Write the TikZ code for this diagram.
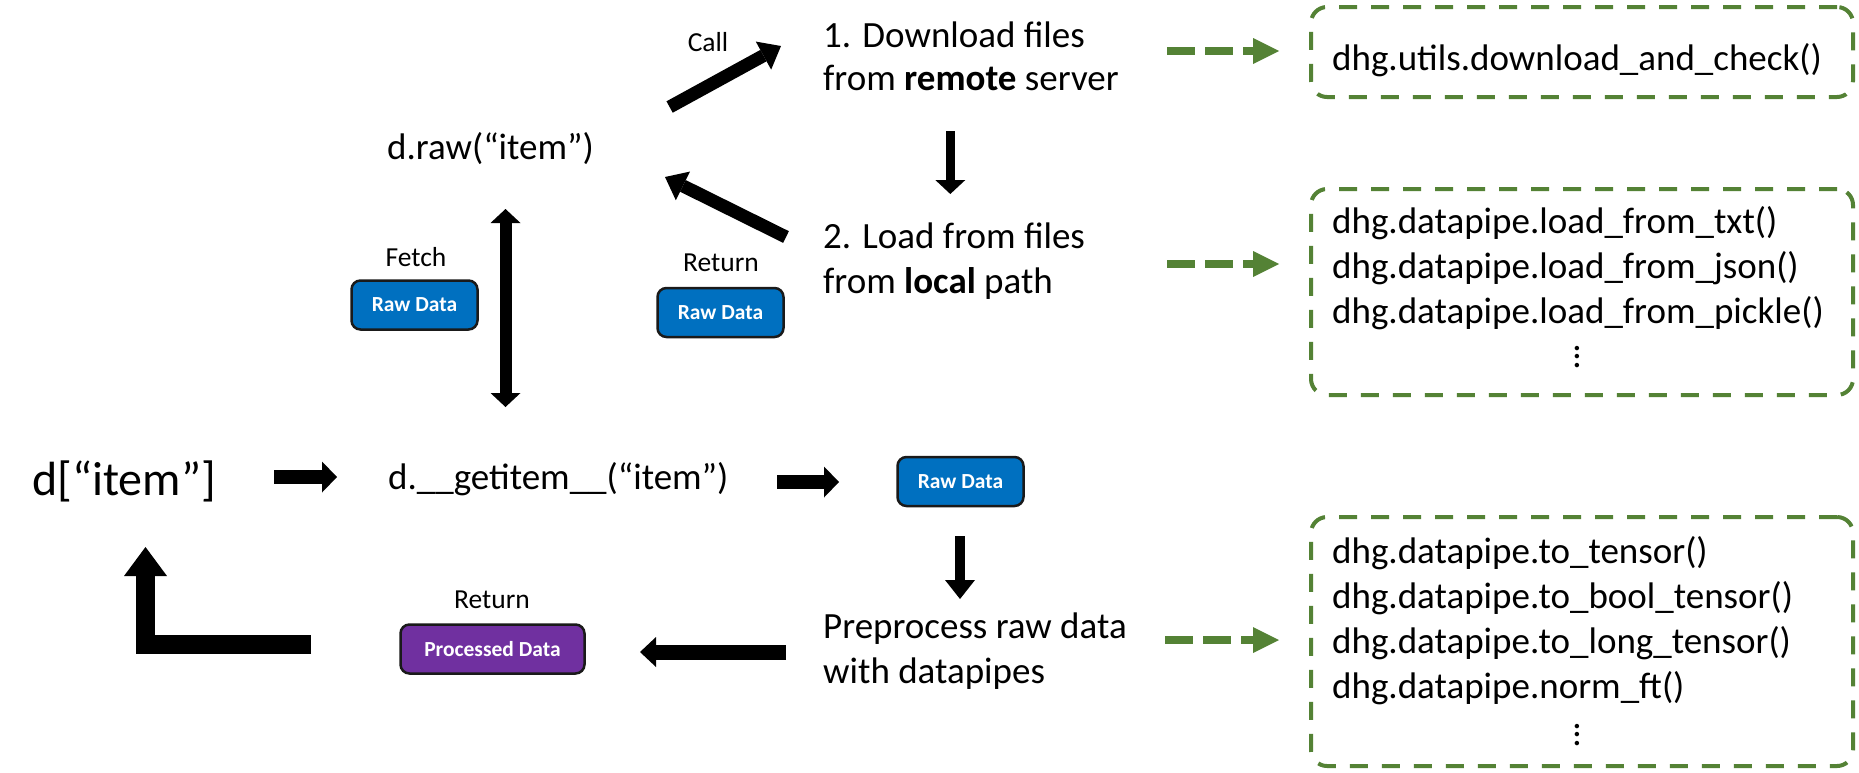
\documentclass[tikz,border=0pt]{standalone}
\usepackage{fontspec}
\setmainfont{Carlito}
\usetikzlibrary{arrows.meta}
\definecolor{gr}{HTML}{548235}
\definecolor{bl}{HTML}{0070C0}
\definecolor{pu}{HTML}{7030A0}
\definecolor{bd}{HTML}{1A1A1A}
\newcommand\myvdots{\vbox{\baselineskip=8.5pt\lineskiplimit=-100pt\hbox{.}\hbox{.}\hbox{.}}}
\begin{document}
\begin{tikzpicture}[x=1pt,y=-1pt,
  txt/.style={inner sep=0pt, font=\fontsize{37}{44}\selectfont, anchor=base west},
  code/.style={txt, text height=27pt, text depth=8pt},
  lbl/.style={inner sep=0pt, font=\fontsize{27.5}{33}\selectfont, anchor=base},
  tag/.style={draw=bd, line width=2.5pt, rounded corners=9pt, minimum width=126pt, minimum height=49pt, inner sep=0pt, text=white, font=\bfseries\fontsize{21.5}{26}\selectfont},
  codebox/.style={draw=gr, line width=4pt, dash pattern=on 18pt off 14pt, rounded corners=16pt, inner sep=0pt, minimum width=542pt},
  vd/.style={inner sep=0pt, font=\fontsize{37}{44}\selectfont},
  garrow/.style={draw=gr, line width=8pt, dash pattern=on 28pt off 10pt, -{Triangle[length=26pt,width=26pt,line width=0pt]}},
  blk/.style={draw=black, line width=13pt, -{Triangle[length=20pt,width=32pt,line width=0pt]}}
]
\fill[white] (0,0) rectangle (1859,772);
\useasboundingbox (0,0) rectangle (1859,772);

% main texts
\node[txt, font=\fontsize{48}{56}\selectfont] (ditem) at (32,495) {d[“item”]};
\node[txt] (getitem) at (388,489) {d.\_\_getitem\_\_(“item”)};
\node[txt] (draw) at (387,159) {d.raw(“item”)};
\node[code] (t1a) at (823,47) {1. Download files};
\node[code] (t1b) at (823,90) {from \textbf{remote} server};
\node[code] (t2a) at (823,248) {2. Load from files};
\node[code] (t2b) at (823,293) {from \textbf{local} path};
\node[code] (pre1) at (823,638) {Preprocess raw data};
\node[code] (pre2) at (823,683) {with datapipes};

% labels
\node[lbl] (call) at (708,51) {Call};
\node[lbl] (fetch) at (416,266) {Fetch};
\node[lbl] (ret1) at (721,271) {Return};
\node[lbl] (ret2) at (492,608) {Return};

% tags
\node[tag, fill=bl] (rd1) at (414.5,305) {Raw Data};
\node[tag, fill=bl] (rd2) at (720.5,312.5) {Raw Data};
\node[tag, fill=bl] (rd3) at (960.5,481.5) {Raw Data};
\node[tag, fill=pu, minimum width=184pt] (pd) at (492.5,649) {Processed Data};

% code boxes
\node[codebox, minimum height=90pt] (box1) at (1582,52) {};
\node[codebox, minimum height=206pt] (box2) at (1582,292) {};
\node[codebox, minimum height=249pt] (box3) at (1582,641.5) {};

\node[code] (c11) at (1332,70) {dhg.utils.download\_and\_check()};
\node[code] (c21) at (1332,233) {dhg.datapipe.load\_from\_txt()};
\node[code] (c22) at (1332,278) {dhg.datapipe.load\_from\_json()};
\node[code] (c23) at (1332,323) {dhg.datapipe.load\_from\_pickle()};
\node[vd] (v2) at (1577,357) {\myvdots};
\node[code] (c31) at (1332,563) {dhg.datapipe.to\_tensor()};
\node[code] (c32) at (1332,608) {dhg.datapipe.to\_bool\_tensor()};
\node[code] (c33) at (1332,653) {dhg.datapipe.to\_long\_tensor()};
\node[code] (c34) at (1332,698) {dhg.datapipe.norm\_ft()};
\node[vd] (v3) at (1577,735) {\myvdots};

% arrow end coordinates
\coordinate (g1s) at (1167,51);  \coordinate (g1e) at (1279,51);
\coordinate (g2s) at (1167,264); \coordinate (g2e) at (1279,264);
\coordinate (g3s) at (1165,640); \coordinate (g3e) at (1279,640);
\coordinate (calls) at (669.6,107); \coordinate (calle) at (781,46);
\coordinate (rets) at (786,237); \coordinate (rete) at (665,177);
\coordinate (d1s) at (950.3,131); \coordinate (d1e) at (950.3,194);
\coordinate (dbs) at (505.5,209); \coordinate (dbe) at (505.5,407);
\coordinate (r1s) at (274,477); \coordinate (r1e) at (337,477);
\coordinate (r2s) at (777,482); \coordinate (r2e) at (839,482);
\coordinate (d2s) at (960,536); \coordinate (d2e) at (960,599);
\coordinate (ls) at (786,652); \coordinate (le) at (640,652);
\coordinate (Ls) at (311,644.5); \coordinate (Lc) at (145.5,644.5); \coordinate (Le) at (145.5,547);

% green arrows
\draw[garrow] (g1s) -- (g1e);
\draw[garrow] (g2s) -- (g2e);
\draw[garrow] (g3s) -- (g3e);

% black arrows
\draw[blk] (calls) -- (calle);
\draw[blk] (rets) -- (rete);
\draw[blk, line width=9.5pt, -{Triangle[length=14pt,width=30pt,line width=0pt]}] (d1s) -- (d1e);
\draw[blk, line width=12pt, {Triangle[length=14pt,width=30pt,line width=0pt]}-{Triangle[length=14pt,width=30pt,line width=0pt]}] (dbs) -- (dbe);
\draw[blk, line width=14pt, -{Triangle[length=15pt,width=31pt,line width=0pt]}] (r1s) -- (r1e);
\draw[blk, line width=14pt, -{Triangle[length=15pt,width=31pt,line width=0pt]}] (r2s) -- (r2e);
\draw[blk, line width=10pt, -{Triangle[length=19pt,width=30pt,line width=0pt]}] (d2s) -- (d2e);
\draw[blk, line width=15pt, -{Triangle[length=16pt,width=30pt,line width=0pt]}] (ls) -- (le);
\draw[blk, line width=19pt, line join=miter, -{Triangle[length=29pt,width=43pt,line width=0pt]}] (Ls) -- (Lc) -- (Le);
\end{tikzpicture}
\end{document}
